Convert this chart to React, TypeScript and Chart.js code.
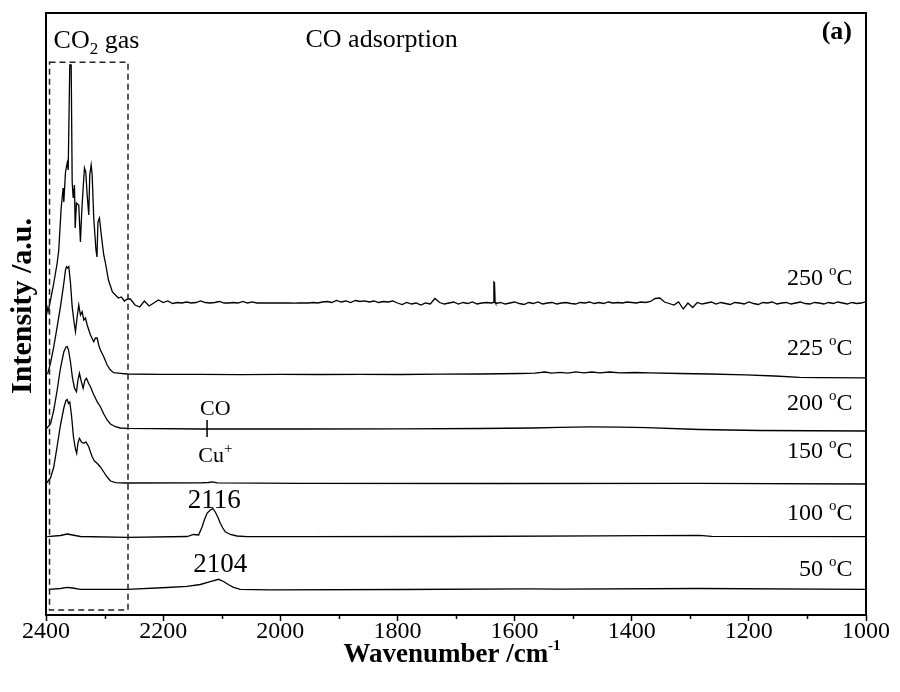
import React, { useEffect, useRef } from 'react';
import { Chart, registerables } from 'chart.js';

Chart.register(...registerables);

const FONT = '"Liberation Serif", "Times New Roman", serif';

// ---- axes ----
const X_MIN = 1000;
const X_MAX = 2400;
const X_STEP = 200;
const MINOR_TICKS = [2300, 2100, 1900, 1700, 1500, 1300, 1100];
const Y_MIN = 0;
const Y_MAX = 60.2;

// ---- series (wavenumber cm-1, intensity a.u. relative to each trace's offset) ----
const TEMPERATURES = ['250', '225', '200', '150', '100', '50'];
const OFFSETS = [31.2, 24.1, 18.65, 13.2, 7.8, 2.57];

const S250_HEAD: [number, number][] = [
  [2399, -0.2], [2396.6, -0.9], [2392.3, 0.3], [2386.7, 2.0], [2380.9, 4.0], [2378.2, 5.3],
  [2374.1, 9.5], [2370.7, 11.5], [2369.6, 10.1], [2366.7, 13.1], [2363.8, 14.0], [2362.1, 13.3],
  [2359.4, 23.8], [2357.0, 23.8], [2355.3, 12.1], [2353.6, 10.5], [2351.4, 11.8], [2350.2, 7.5],
  [2348.0, 10.0], [2344.1, 9.8], [2341.2, 6.1], [2339.0, 9.1], [2336.6, 11.5], [2334.3, 13.5],
  [2332.1, 13.1], [2329.7, 10.8], [2327.0, 8.8], [2325.3, 12.8], [2322.9, 13.8], [2321.2, 12.8],
  [2318.5, 8.5], [2314.7, 5.3], [2313.0, 4.6], [2311.3, 8.1], [2308.8, 8.5], [2304.2, 6.1],
  [2301.4, 4.8], [2298.5, 4.0], [2293.4, 2.3], [2286.6, 1.1], [2281.5, 0.8], [2276.4, 0.5],
  [2271.3, 0.6], [2266.1, 0.2], [2261.0, 0.4],
];
const S250_TAIL_START = 2256;
const S250_TAIL_STEP = 8;
const S250_TAIL: number[] = [
  0.4, -0.2, -0.4, 0.2, -0.3, 0, 0.3, 0.05, 0.2, -0.05,
  0.05, 0, 0.1, 0, 0.05, 0.2, 0.05,
  0, 0.05, 0.15, 0, 0, 0.05, 0, 0.15, 0, 0.12, 0, 0, 0.02, 0, 0, 0.02, 0, 0, -0.02, 0, 0.02, 0, 0.05, 0, 0.1,
  0.15, 0.05, 0.25, 0.1, 0.2, 0.05, 0.25, 0.15, 0.22, 0.1, 0.2, 0.05, 0.15, 0.1, 0.2,
  0, -0.15, 0.05, -0.1, 0, -0.2, 0, -0.1,
  0.45,
  0.05, -0.1, 0, 0.1, -0.1, 0.05, -0.05, 0.1, -0.1, 0, 0.05,
  0,
  -0.05,
  0.05, -0.1, 0, 0.1, -0.05, -0.15, 0.05, -0.05, 0.1, -0.1, 0, 0.05, -0.1, 0, 0.05, -0.05, -0.1, 0.05, 0, 0.1,
  -0.05, 0.05, -0.05, 0.1, 0, 0.05, 0, 0.1, 0.05, 0, 0.1, 0.05, 0.15,
  0.45, 0.5, 0.1, -0.05, -0.2, 0.1, -0.6, 0, -0.45, 0.05, -0.1,
  0, 0.1, -0.1, 0.05, -0.05, -0.15, 0.05, 0, -0.1, 0.1, -0.05, -0.15, 0.05, 0, 0.1, -0.1, 0, 0.05, -0.1, 0,
  0.1, -0.05, -0.1, 0.05, 0, -0.1, 0.05, -0.05, 0.1, 0, -0.1, 0.05, -0.05, 0, 0.15,
];
const S250_SPIKE: [number, number][] = [[1636.5, 0.05], [1635.3, 2.1], [1634.3, 2.05], [1633.2, 0.1]];

const S225: [number, number][] = [
  [2399.1, 0], [2396.9, 0.07], [2392.3, 1.1], [2386.7, 2.73], [2380.9, 4.73], [2375.3, 6.73],
  [2369.6, 9.07], [2366.7, 10.4], [2365.0, 10.73], [2362.8, 10.6], [2361.1, 10.73], [2358.2, 9.1],
  [2355.3, 6.73], [2352.6, 5.4], [2349.7, 4.23], [2346.8, 5.73], [2344.1, 6.9], [2341.2, 5.9],
  [2338.3, 6.23], [2335.5, 5.4], [2332.6, 5.6], [2329.7, 4.9], [2324.1, 3.9], [2318.5, 3.23],
  [2315.6, 3.6], [2312.7, 3.6], [2310.0, 2.9], [2307.1, 2.4], [2301.4, 1.73], [2295.6, 0.9],
  [2290.0, 0.4], [2284.4, 0.13], [2273.0, 0.07], [2261.0, 0],
  [2204.7, -0.03], [2136.5, -0.03], [2068.3, -0.07], [2000.1, -0.03], [1931.9, -0.05], [1863.7, -0.03],
  [1795.5, -0.05], [1727.3, -0.02], [1659.1, 0], [1590.9, 0.05], [1565.3, 0.08], [1548.3, 0.2],
  [1536.3, 0.08], [1522.7, 0.16], [1509.0, 0.08], [1495.4, 0.22], [1481.8, 0.12], [1468.1, 0.2],
  [1454.5, 0.12], [1437.4, 0.2], [1420.4, 0.12], [1394.8, 0.15], [1369.2, 0.12], [1318.1, 0.05],
  [1266.9, 0], [1205.5, -0.08], [1156.1, -0.2], [1113.4, -0.33], [1079.3, -0.37], [1000.9, -0.38],
];

const S200: [number, number][] = [
  [2399.1, 0], [2392.3, 0.45], [2386.7, 1.85], [2380.9, 3.85], [2375.3, 6.05], [2369.6, 7.65],
  [2365.9, 8.15], [2363.8, 8.2], [2361.6, 7.85], [2358.2, 6.65], [2354.8, 5.05], [2351.4, 4.05],
  [2348.0, 3.68], [2345.4, 4.85], [2342.9, 5.52], [2340.3, 4.85], [2336.6, 4.02], [2333.5, 4.85],
  [2330.9, 5.02], [2327.5, 4.55], [2324.1, 4.18], [2319.0, 3.45], [2312.7, 2.68], [2307.1, 2.18],
  [2301.4, 1.45], [2295.6, 0.85], [2290.0, 0.45], [2281.5, 0.18], [2273.0, 0.05], [2261.5, 0.02],
  [2136.5, -0.05], [1966.0, -0.05], [1795.5, -0.03], [1659.1, 0], [1568.7, 0.05], [1522.7, 0.12],
  [1471.5, 0.16], [1420.4, 0.14], [1374.3, 0.08], [1284.0, -0.1], [1181.7, -0.2], [1000.9, -0.25],
];

const S150: [number, number][] = [
  [2399.1, 0], [2392.3, 0.5], [2386.7, 1.6], [2380.9, 3.7], [2375.3, 5.8], [2369.6, 7.5],
  [2365.9, 8.25], [2363.8, 8.35], [2361.6, 7.95], [2359.4, 8.1], [2356.5, 6.8], [2353.1, 4.6],
  [2349.7, 3.4], [2347.6, 2.97], [2345.4, 4.0], [2342.9, 4.47], [2339.5, 4.1], [2335.5, 3.97],
  [2331.8, 4.1], [2327.0, 3.63], [2324.1, 3.1], [2321.2, 2.63], [2317.3, 2.2], [2312.7, 1.97],
  [2307.1, 1.6], [2301.4, 1.1], [2295.6, 0.6], [2290.0, 0.2], [2281.5, 0.03], [2264.4, 0],
  [2136.5, 0.02], [2122.9, 0.05], [2116.1, 0.12], [2107.6, 0.02], [1966.0, -0.03], [1625.0, -0.05],
  [1284.0, -0.03], [1000.9, -0.1],
];

const S100: [number, number][] = [
  [2398.0, 0.03], [2375.3, 0.15], [2363.8, 0.3], [2354.8, 0.2], [2341.2, 0.05], [2261.5, -0.03],
  [2159.2, 0.05], [2148.0, 0.25], [2139.4, 0.2], [2133.6, 1.0], [2129.7, 1.7], [2125.1, 2.37],
  [2119.5, 2.7], [2114.9, 2.85], [2111.0, 2.5], [2106.7, 2.0], [2102.4, 1.37], [2098.2, 0.9],
  [2093.9, 0.53], [2085.4, 0.25], [2073.9, 0.1], [2056.9, 0.03], [1966.0, 0.03], [1710.2, 0.05],
  [1454.5, 0.12], [1284.0, 0.17], [1263.5, 0.07], [1000.9, 0.03],
];

const S50: [number, number][] = [
  [2395.2, 0], [2375.3, 0.08], [2363.8, 0.2], [2354.8, 0.13], [2341.2, 0], [2261.5, 0],
  [2193.3, 0.18], [2159.2, 0.3], [2136.5, 0.48], [2119.5, 0.76], [2105.3, 1.0], [2096.8, 0.78],
  [2088.8, 0.48], [2079.8, 0.2], [2068.3, 0], [2017.2, -0.05], [1795.5, -0.02], [1573.8, 0.05],
  [1522.7, 0.01], [1284.0, 0.08], [1000.9, 0],
];

// ---- annotations (data coordinates) ----
const CO2_BOX_WN = [2394, 2260];
const CO2_BOX_Y = [0.5, 55.27];
const CO_TICK_WN = 2125;
const CO_TICK_Y = [17.8, 19.5];
const TEMP_LABEL_WN = 1023;
const TEMP_LABEL_Y = [33.0, 26.0, 20.5, 15.7, 9.5, 3.9];
const PEAK_LABELS = ['2116', '2104'];
const PEAK_LABEL_WN = [2112.6, 2102.4];
const PEAK_LABEL_Y = [10.7, 4.3];

type Part = { t: string; size: number; dy?: number; bold?: boolean };

function drawRich(ctx: CanvasRenderingContext2D, parts: Part[], x: number, y: number, align: 'left' | 'center' | 'right') {
  const widths = parts.map((p) => {
    ctx.font = `${p.bold ? 'bold ' : ''}${p.size}px ${FONT}`;
    return ctx.measureText(p.t).width;
  });
  const total = widths.reduce((s, w) => s + w, 0);
  let cx = align === 'left' ? x : align === 'center' ? x - total / 2 : x - total;
  ctx.textAlign = 'left';
  ctx.textBaseline = 'alphabetic';
  parts.forEach((p, i) => {
    ctx.font = `${p.bold ? 'bold ' : ''}${p.size}px ${FONT}`;
    ctx.fillText(p.t, cx, y + (p.dy || 0));
    cx += widths[i];
  });
}

const overlayPlugin = {
  id: 'overlay',
  afterDraw(chart: any) {
    const { ctx, chartArea: a, scales } = chart;
    const x = scales.x;
    const y = scales.y;
    ctx.save();
    ctx.fillStyle = '#000';
    ctx.strokeStyle = '#000';

    // frame
    ctx.lineWidth = 2;
    ctx.strokeRect(a.left, a.top, a.right - a.left, a.bottom - a.top);

    // minor ticks
    ctx.lineWidth = 1.5;
    MINOR_TICKS.forEach((v) => {
      const px = Math.round(x.getPixelForValue(v)) + 0.5;
      ctx.beginPath();
      ctx.moveTo(px, a.bottom);
      ctx.lineTo(px, a.bottom + 4);
      ctx.stroke();
    });

    // CO2 dashed box
    const bx0 = x.getPixelForValue(CO2_BOX_WN[0]);
    const bx1 = x.getPixelForValue(CO2_BOX_WN[1]);
    const by0 = y.getPixelForValue(CO2_BOX_Y[1]);
    const by1 = y.getPixelForValue(CO2_BOX_Y[0]);
    ctx.save();
    ctx.strokeStyle = '#222';
    ctx.lineWidth = 1.5;
    ctx.setLineDash([6, 4]);
    ctx.strokeRect(bx0, by0, bx1 - bx0, by1 - by0);
    ctx.restore();

    // CO-Cu+ tick
    const tx = x.getPixelForValue(CO_TICK_WN);
    ctx.lineWidth = 1.5;
    ctx.beginPath();
    ctx.moveTo(tx, y.getPixelForValue(CO_TICK_Y[1]));
    ctx.lineTo(tx, y.getPixelForValue(CO_TICK_Y[0]));
    ctx.stroke();

    // texts
    drawRich(ctx, [{ t: 'CO', size: 26 }, { t: '2', size: 17, dy: 6 }, { t: ' gas', size: 26 }], x.getPixelForValue(2387), a.top + 35, 'left');
    drawRich(ctx, [{ t: 'CO adsorption', size: 26 }], x.getPixelForValue(1957), a.top + 34, 'left');
    drawRich(ctx, [{ t: '(a)', size: 26, bold: true }], a.right - 14, a.top + 26, 'right');

    TEMPERATURES.forEach((t, i) => {
      drawRich(
        ctx,
        [{ t: `${t} `, size: 24 }, { t: 'o', size: 15, dy: -10 }, { t: 'C', size: 24 }],
        x.getPixelForValue(TEMP_LABEL_WN),
        y.getPixelForValue(TEMP_LABEL_Y[i]),
        'right'
      );
    });

    drawRich(ctx, [{ t: 'CO', size: 22 }], x.getPixelForValue(2111), y.getPixelForValue(20.0), 'center');
    drawRich(ctx, [{ t: 'Cu', size: 22 }, { t: '+', size: 15, dy: -9 }], x.getPixelForValue(2140), y.getPixelForValue(15.3), 'left');
    PEAK_LABELS.forEach((t, i) => {
      drawRich(ctx, [{ t, size: 27 }], x.getPixelForValue(PEAK_LABEL_WN[i]), y.getPixelForValue(PEAK_LABEL_Y[i]), 'center');
    });

    // axis titles
    drawRich(
      ctx,
      [{ t: 'Wavenumber /cm', size: 27, bold: true }, { t: '-1', size: 15, bold: true, dy: -12 }],
      (a.left + a.right) / 2 - 4,
      a.bottom + 47,
      'center'
    );
    ctx.save();
    ctx.translate(a.left - 23, (a.top + a.bottom) / 2 - 8);
    ctx.rotate(-Math.PI / 2);
    ctx.font = `bold 30px ${FONT}`;
    ctx.textAlign = 'center';
    ctx.textBaseline = 'middle';
    ctx.fillText('Intensity /a.u.', 0, 0);
    ctx.restore();

    ctx.restore();
  },
};

function buildSeries(idx: number): { x: number; y: number }[] {
  const off = OFFSETS[idx];
  let pts: [number, number][];
  if (idx === 0) {
    const tail: [number, number][] = S250_TAIL.map((v, i) => [S250_TAIL_START - i * S250_TAIL_STEP, v]);
    pts = [...S250_HEAD, ...tail, ...S250_SPIKE].sort((p, q) => q[0] - p[0]);
  } else {
    pts = [S225, S200, S150, S100, S50][idx - 1];
  }
  return pts.map(([wn, v]) => ({ x: wn, y: off + v }));
}

export default function App() {
  const ref = useRef<HTMLCanvasElement | null>(null);

  useEffect(() => {
    if (!ref.current) return;
    const datasets = TEMPERATURES.map((t, i) => ({
      label: `${t} °C`,
      data: buildSeries(i),
      borderColor: '#000',
      borderWidth: 1.3,
      pointRadius: 0,
      tension: 0,
      fill: false,
    }));
    const chart = new Chart(ref.current, {
      type: 'line',
      data: { datasets },
      plugins: [overlayPlugin],
      options: {
        animation: false,
        responsive: false,
        devicePixelRatio: 1,
        layout: { padding: { top: 13, right: 34, bottom: 0, left: 0 } },
        plugins: { legend: { display: false }, tooltip: { enabled: false } },
        scales: {
          x: {
            type: 'linear',
            reverse: true,
            min: X_MIN,
            max: X_MAX,
            afterFit: (s: any) => { s.height = 77; },
            border: { display: false },
            grid: { display: true, drawOnChartArea: false, drawTicks: true, tickLength: 6, tickColor: '#000', tickWidth: 1.5 },
            ticks: {
              stepSize: X_STEP,
              autoSkip: false,
              maxRotation: 0,
              padding: -4,
              color: '#000',
              font: { family: FONT, size: 24 },
              callback: (v: any) => String(v),
            },
          },
          y: {
            type: 'linear',
            min: Y_MIN,
            max: Y_MAX,
            afterFit: (s: any) => { s.width = 46; },
            border: { display: false },
            grid: { display: false },
            ticks: { display: false },
          },
        },
      },
    });
    return () => chart.destroy();
  }, []);

  return (
    <div style={{ position: 'fixed', left: 0, top: 0, width: 900, height: 692, background: '#fff' }}>
      <canvas ref={ref} width={900} height={692} style={{ width: 900, height: 692, display: 'block' }} />
    </div>
  );
}
